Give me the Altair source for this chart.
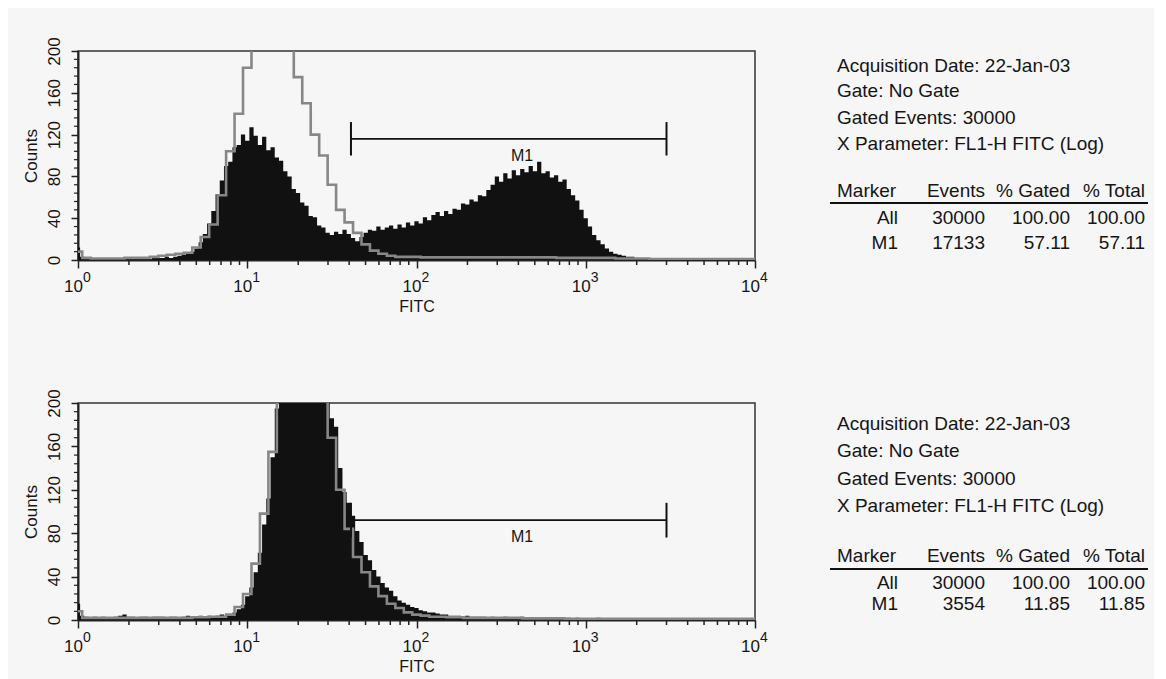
import altair as alt
import pandas as pd

# ---------------- data ----------------
FINE_STEP = 0.025     # log10 channel width of the filled (black) histograms
COARSE_STEP = 0.05    # log10 channel width of the grey outline histograms

top_black = [
    12, 3, 2, 1, 1, 2, 1, 1, 1, 2,
    1, 1, 2, 1, 1, 1, 2, 1, 2, 2,
    2, 3, 2, 3, 4, 5, 6, 8, 11, 17,
    25, 35, 47, 63, 76, 90, 94, 108, 110, 120,
    114, 127, 119, 110, 118, 105, 108, 98, 95, 85,
    80, 68, 64, 55, 52, 42, 41, 33, 31, 26,
    24, 27, 25, 29, 25, 21, 18, 22, 26, 29,
    28, 32, 29, 31, 33, 30, 34, 31, 36, 33,
    37, 35, 41, 38, 43, 46, 42, 47, 44, 49,
    48, 54, 53, 58, 56, 62, 61, 67, 72, 80,
    75, 83, 78, 86, 81, 87, 84, 90, 85, 94,
    83, 85, 79, 81, 75, 77, 68, 62, 57, 48,
    40, 32, 24, 19, 15, 11, 8, 6, 5, 4,
    3, 3, 2, 2, 2, 1, 1, 1, 1, 1,
    1, 1, 0, 1, 1, 0, 1, 0, 1, 0,
    0, 1, 0, 0, 1, 0, 0, 0, 0, 0, 0,
]
top_grey = [
    8, 2, 1.5, 1.5, 1.5, 1.5, 2, 2, 2, 3,
    4, 5, 6, 7, 12, 22, 34, 62, 104, 140,
    184, 215, 240, 245, 230, 205, 175, 150, 120, 100,
    72, 48, 36, 26, 15, 9, 6, 4, 3, 3,
    3, 2.5, 2.5, 2.5, 2.5, 2.5, 2.5, 2.5, 2.5, 2.5,
    2.5, 2.5, 2.5, 2.5, 2.5, 2.5, 2.5, 2, 2, 2,
    2, 2, 2, 2, 1.5, 1.5, 1.5, 1.5, 1, 1,
    1, 1, 1, 1, 1, 1, 1, 1, 1, 1, 1,
]
bot_black = [
    15, 4, 3, 2, 3, 2, 3, 2, 2, 3,
    4, 5, 3, 3, 2, 3, 3, 2, 3, 3,
    3, 2, 3, 3, 2, 3, 4, 3, 3, 4,
    3, 4, 3, 4, 5, 4, 5, 7, 10, 14,
    22, 30, 44, 62, 88, 112, 150, 195, 235, 265,
    282, 292, 296, 290, 280, 266, 250, 232, 215, 205,
    186, 178, 140, 118, 108, 96, 82, 72, 60, 55,
    46, 40, 34, 30, 27, 22, 18, 16, 14, 12,
    11, 9, 8, 7, 7, 6, 5, 5, 4, 4,
    4, 3, 4, 3, 3, 3, 3, 2, 3, 2,
    2, 3, 2, 2, 2, 3, 2, 2, 2, 2,
    2, 2, 1, 2, 2, 1, 2, 1, 2, 1,
    1, 1, 1, 2, 1, 1, 1, 1, 1, 1,
    1, 0, 1, 1, 0, 1, 0, 1, 0, 1,
    0, 1, 0, 0, 1, 0, 0, 1, 0, 0,
    0, 0, 1, 0, 0, 0, 0, 0, 0, 0, 0,
]
bot_grey = [
    8, 2, 2, 2, 2, 2, 2, 2, 2, 2,
    2, 2, 2, 2, 2.5, 2.5, 3, 3, 5, 12,
    24, 52, 98, 155, 230, 280, 290, 270, 240, 210,
    168, 120, 84, 58, 44, 31, 22, 15, 11, 7,
    5, 4, 3, 3, 2.5, 2.5, 2, 2, 2, 2,
    2, 2, 2, 1.5, 1.5, 1.5, 1.5, 1.5, 1, 1,
    1, 1, 1, 1, 1, 1, 1, 1, 1, 1,
    1, 1, 1, 1, 1, 1, 1, 1, 1, 1, 1,
]

# marker M1 gate (FITC range) and its drawing level (counts)
m1_start = 41
m1_end = 3000
m1_label_x = 420
top_m1_level = 116
bot_m1_level = 92

x_tick_values = [1, 10, 100, 1000, 10000]
x_tick_base = "10"
x_tick_exponents = ["0", "1", "2", "3", "4"]
x_minor_values = [k * 10 ** d for d in range(4) for k in range(2, 10)]
y_tick_values = [0, 40, 80, 120, 160, 200]
y_minor_values = [v for v in range(0, 201, 8) if v % 40]

info_top = ["Acquisition Date: 22-Jan-03", "Gate: No Gate",
            "Gated Events: 30000", "X Parameter: FL1-H FITC (Log)"]
info_bot = ["Acquisition Date: 22-Jan-03", "Gate: No Gate",
            "Gated Events: 30000", "X Parameter: FL1-H FITC (Log)"]
table_header = ["Marker", "Events", "% Gated", "% Total"]
table_top = [["All", "30000", "100.00", "100.00"],
             ["M1", "17133", "57.11", "57.11"]]
table_bot = [["All", "30000", "100.00", "100.00"],
             ["M1", "3554", "11.85", "11.85"]]

# ---------------- styling / layout ----------------
FONT = "Liberation Sans"
PLOT_W = 677
TXT_SIZE = 19
COL_RIGHT = [820, 907, 992, 1067]
TEXT_LEFT = 759
INK = "#151515"


def hist_df(vals, step):
    return pd.DataFrame({"fitc": [10 ** (i * step) for i in range(len(vals))],
                         "count": vals})


xscale = alt.Scale(type="log", domain=[1, 10000], nice=False)
yscale = alt.Scale(domain=[0, 200], nice=False)

major_x = alt.Axis(values=x_tick_values, labelExpr=f"'{x_tick_base}'", title="FITC",
                   tickSize=8, tickWidth=1.5, labelFontSize=17, titleFontSize=16,
                   labelPadding=10, titlePadding=4, labelFlush=False,
                   labelOffset=-5)
major_y = alt.Axis(values=y_tick_values, title="Counts", tickSize=7, tickWidth=1.5,
                   labelAngle=270, labelAlign="center", labelBaseline="bottom",
                   labelFontSize=17, titleFontSize=17, labelPadding=8,
                   titlePadding=5, labelFlush=False)


def text_layer(s, x, y, align="left"):
    return alt.Chart(pd.DataFrame({"t": [s]})).mark_text(
        align=align, baseline="middle", font=FONT, fontSize=TXT_SIZE, color=INK
    ).encode(text="t:N", x=alt.value(x), y=alt.value(y))


def panel(black, grey, level, info, table, height, ys):
    area = alt.Chart(hist_df(black, FINE_STEP)).mark_area(
        interpolate="step", color="#111111", clip=True
    ).encode(x=alt.X("fitc:Q", scale=xscale, axis=major_x),
             y=alt.Y("count:Q", scale=yscale, axis=major_y))
    line = alt.Chart(hist_df(grey, COARSE_STEP)).mark_line(
        interpolate="step", color="#878787", strokeWidth=2.6, clip=True
    ).encode(x=alt.X("fitc:Q", scale=xscale),
             y=alt.Y("count:Q", scale=yscale))
    # minor ticks, placed through the scales
    xminor = alt.Chart(pd.DataFrame({"v": x_minor_values})).mark_rule(
        color="#222222", strokeWidth=1.5
    ).encode(x=alt.X("v:Q", scale=xscale),
             y=alt.value(height), y2=alt.value(height + 5))
    yminor = alt.Chart(pd.DataFrame({"v": y_minor_values})).mark_rule(
        color="#222222", strokeWidth=1.2
    ).encode(y=alt.Y("v:Q", scale=yscale),
             x=alt.value(0), x2=alt.value(-4))
    # superscript exponents of the decade labels
    expo = alt.Chart(pd.DataFrame({"v": x_tick_values, "e": x_tick_exponents})).mark_text(
        font=FONT, fontSize=14, align="left", baseline="top", dx=5, dy=11, color=INK
    ).encode(x=alt.X("v:Q", scale=xscale), y=alt.value(height), text="e:N")
    mdf = pd.DataFrame({"a": [m1_start], "b": [m1_end], "lv": [level]})
    mrule = alt.Chart(mdf).mark_rule(color="#111111", strokeWidth=1.8).encode(
        x=alt.X("a:Q", scale=xscale), x2="b:Q",
        y=alt.Y("lv:Q", scale=yscale))
    edf = pd.DataFrame({"e": [m1_start, m1_end], "lo": [level - 16] * 2,
                        "hi": [level + 16] * 2})
    ends = alt.Chart(edf).mark_rule(color="#111111", strokeWidth=2).encode(
        x=alt.X("e:Q", scale=xscale),
        y=alt.Y("lo:Q", scale=yscale), y2="hi:Q")
    ldf = pd.DataFrame({"t": ["M1"], "x": [m1_label_x], "lv": [level]})
    mlabel = alt.Chart(ldf).mark_text(
        font=FONT, fontSize=16, dy=17, color=INK, baseline="middle"
    ).encode(text="t:N", x=alt.X("x:Q", scale=xscale),
             y=alt.Y("lv:Q", scale=yscale))

    layers = [area, line, xminor, yminor, expo, mrule, ends, mlabel]
    for s, y in zip(info, ys[:4]):
        layers.append(text_layer(s, TEXT_LEFT, y))
    hy, uy, r1, r2 = ys[4], ys[5], ys[6], ys[7]
    layers.append(text_layer(table_header[0], TEXT_LEFT, hy))
    for s, xr in zip(table_header[1:], COL_RIGHT[1:]):
        layers.append(text_layer(s, xr, hy, "right"))
    layers.append(alt.Chart(pd.DataFrame({"u": [0]})).mark_rule(
        color="#111111", strokeWidth=2).encode(
        x=alt.value(752), x2=alt.value(1070), y=alt.value(uy)))
    for row, yy in zip(table, [r1, r2]):
        for s, xr in zip(row, COL_RIGHT):
            layers.append(text_layer(s, xr, yy, "right"))
    return alt.layer(*layers).properties(width=PLOT_W, height=height)


top = panel(top_black, top_grey, top_m1_level, info_top, table_top, 209,
            [15, 40, 67, 93, 140, 152, 167, 192])
bottom = panel(bot_black, bot_grey, bot_m1_level, info_bot, table_bot, 217,
               [21, 48, 76, 103, 153, 166, 180, 201])

chart = alt.vconcat(
    top, bottom, spacing=143, bounds="flush",
    background="#f6f6f6",
    padding={"left": 13, "top": 28, "right": 4, "bottom": 8},
).configure_view(stroke="#333333", strokeWidth=1.5).configure_axis(
    domainColor="#222222", domainWidth=2, tickColor="#222222",
    labelColor=INK, titleColor=INK, labelFont=FONT, titleFont=FONT,
    titleFontWeight="normal", grid=False,
)

chart.save("out.html", embed_options={"renderer": "svg", "actions": False})
